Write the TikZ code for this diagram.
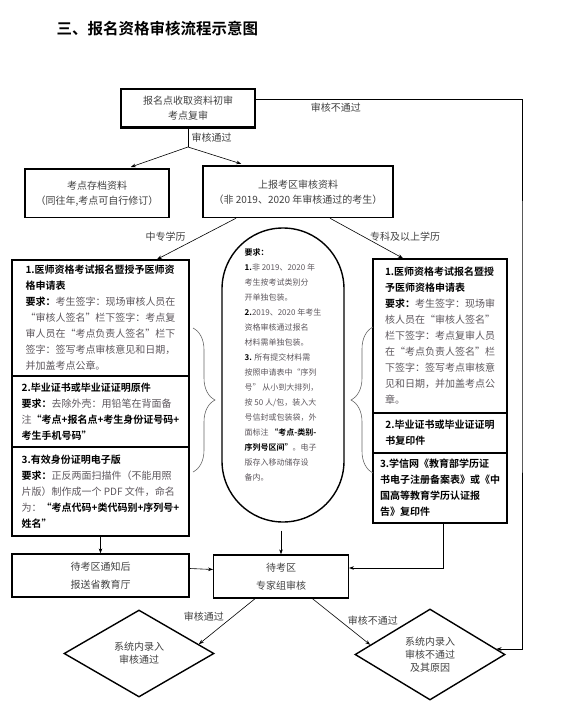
\documentclass[tikz,border=0pt]{standalone}
\usepackage{fontspec}
\usepackage{tikz}
\usepackage{xcolor}
\usetikzlibrary{calc,shapes.geometric,arrows.meta,decorations.pathreplacing}
\setmainfont{Noto Sans CJK SC}[BoldFont={Noto Sans CJK SC Bold}]
\definecolor{txtgray}{RGB}{64,64,64}
\definecolor{bodygray}{RGB}{92,86,92}
\newcommand{\hd}[1]{{\bfseries\color{black}#1}}
\newcommand{\boxfont}{\fontsize{10}{16}\selectfont}
\newcommand{\reqfont}{\fontsize{8}{15}\selectfont}
\newcommand{\lblfont}{\fontsize{10}{15}\selectfont}
\newcommand{\dmfont}{\fontsize{10}{13}\selectfont}

\begin{document}
\begin{tikzpicture}[x=1pt, y=-1pt,
        box/.style={draw, line width=1.4pt, inner sep=0pt, align=center, text=txtgray, font=\lblfont},
        listbox/.style={draw, line width=1.4pt, inner sep=0pt, align=left, text=bodygray, font=\boxfont},
        pill/.style={draw, line width=1.4pt, rounded corners=61pt, minimum width=122pt, minimum height=294pt, inner sep=0pt, align=left, text=bodygray, font=\reqfont},
        dm/.style={draw, diamond, line width=1.4pt, inner sep=0pt, align=center, text=txtgray, font=\dmfont},
        arr/.style={-{Stealth[length=5pt,width=3.6pt]}, line width=0.6pt},
        lbl/.style={text=txtgray, font=\lblfont},
        brc/.style={decorate, decoration={brace, amplitude=22pt}, line width=0.6pt, draw=black!60}]
        \useasboundingbox (0,0) rectangle (560,720);

        \node [anchor=west, font={\fontsize{15.5}{18}\selectfont\bfseries}] (title) at (53,29) {三、报名资格审核流程示意图};

        \node [box, line width=2.2pt, minimum width=134pt, minimum height=38.5pt] (s1) at (188,108.3) {报名点收取资料初审\\考点复审};
        \node [box, minimum width=144pt, minimum height=48.5pt] (arch) at (97,193.3) {考点存档资料\\（同往年,考点可自行修订）};
        \node [box, minimum width=190pt, minimum height=51.5pt] (rep) at (298,191.8) {上报考区审核资料\\（非 2019、2020 年审核通过的考生）};

        \node [listbox, minimum width=177pt, minimum height=116pt] (l1) at (100.5,318) {\hd{1.医师资格考试报名暨授予医师资}\\\hd{格申请表}\\\hd{要求：}考生签字：现场审核人员在\\“审核人签名”栏下签字：考点复\\审人员在“考点负责人签名”栏下\\签字：签写考点审核意见和日期，\\并加盖考点公章。};
        \node [listbox, minimum width=177pt, minimum height=71pt] (l2) at (100.5,411.5) {\hd{2.毕业证书或毕业证证明原件}\\\hd{要求：}去除外壳：用铅笔在背面备\\注\hd{“考点+报名点+考生身份证号码+}\\\hd{考生手机号码”}};
        \node [listbox, minimum width=177pt, minimum height=89pt] (l3) at (100.5,491.5) {\hd{3.有效身份证明电子版}\\\hd{要求：}正反两面扫描件（不能用照\\片版）制作成一个 PDF 文件，命名\\为：\hd{“考点代码+类代码别+序列号+}\\\hd{姓名”}};

        \node [pill] (rq) at (283,375) {\hd{要求：}\\\hd{1.}非 2019、2020 年\\考生按考试类别分\\开单独包装。\\\hd{2.}2019、2020 年考生\\资格审核通过报名\\材料需单独包装。\\\hd{3.} 所有提交材料需\\按照申请表中“序列\\号” 从小到大排列，\\按 50 人/包，装入大\\号信封或包装袋，外\\面标注 \hd{“考点-类别-}\\\hd{序列号区间”}。电子\\版存入移动储存设\\备内。\\[6pt]};

        \node [listbox, minimum width=134pt, minimum height=154pt] (r1) at (440,336) {\hd{1.医师资格考试报名暨授}\\\hd{予医师资格申请表}\\\hd{要求：}考生签字：现场审\\核人员在“审核人签名”\\栏下签字：考点复审人员\\在“考点负责人签名”栏\\下签字：签写考点审核意\\见和日期，并加盖考点公\\章。};
        \node [listbox, minimum width=134pt, minimum height=40pt] (r2) at (440,433) {\hd{2.毕业证书或毕业证证明}\\\hd{书复印件}};
        \node [listbox, minimum width=134pt, minimum height=70pt] (r3) at (440,488) {\hd{3.学信网《教育部学历证}\\\hd{书电子注册备案表》或《中}\\\hd{国高等教育学历认证报}\\\hd{告》复印件}};

        \node [box, minimum width=177pt, minimum height=43pt, font={\fontsize{10}{18}\selectfont}] (wait) at (100.5,575.5) {待考区通知后\\报送省教育厅};
        \node [box, minimum width=134.5pt, minimum height=43pt, font={\fontsize{10}{18}\selectfont}] (exp) at (281,576.5) {待考区\\专家组审核};

        \node [dm, minimum width=150pt, minimum height=87pt] (pass) at (139,653.5) {系统内录入\\审核通过};
        \node [dm, minimum width=150pt, minimum height=91pt] (fail) at (430,654.5) {系统内录入\\审核不通过\\及其原因};

        \coordinate (split) at (188,147);
        \coordinate (rline) at (522,300);

        \draw [line width=0.6pt] (s1.south) -- node [lbl, midway, right] {审核通过} (split);
        \draw [arr, shorten >=4pt] (split) -- ([xshift=30pt]arch.north);
        \draw [arr, shorten >=5pt] (split) -- ([xshift=-52pt]rep.north);
        \draw [arr] ([yshift=9pt]s1.east) -| node [lbl, pos=0.15, below] {审核不通过} (rline) |- ($(fail.east)!0.12!(fail.north)$);

        \draw [arr] ([xshift=-62pt]rep.south) -- node [lbl, pos=0.44, left=12pt] {中专学历} ([xshift=56.5pt]l1.north);
        \draw [arr] ([xshift=32pt]rep.south) -- node [lbl, pos=0.46, right=3pt] {专科及以上学历} ([xshift=-37pt]r1.north);

        \draw [brc] (193,328) -- (193,472);
        \draw [brc] (373,473) -- (373,327);

        \draw [arr] (l3.south) -- (wait.north);
        \draw [arr] ([yshift=7pt]wait.east) -- ([yshift=7pt]exp.west);
        \draw [arr, shorten <=8pt] (rq.south -| exp.north) -- (exp.north);
        \draw [arr] ([xshift=3pt]r3.south) |- ([yshift=8.5pt]exp.east);

        \draw [arr] ([xshift=-26pt]exp.south) -- node [lbl, pos=0.4, left=5pt] {审核通过} ($(pass.north)!0.79!(pass.east)$);
        \draw [arr] ([xshift=31.5pt]exp.south) -- node [lbl, pos=0.48, right=4pt] {审核不通过} ($(fail.west)!0.21!(fail.north)$);
\end{tikzpicture}
\end{document}
